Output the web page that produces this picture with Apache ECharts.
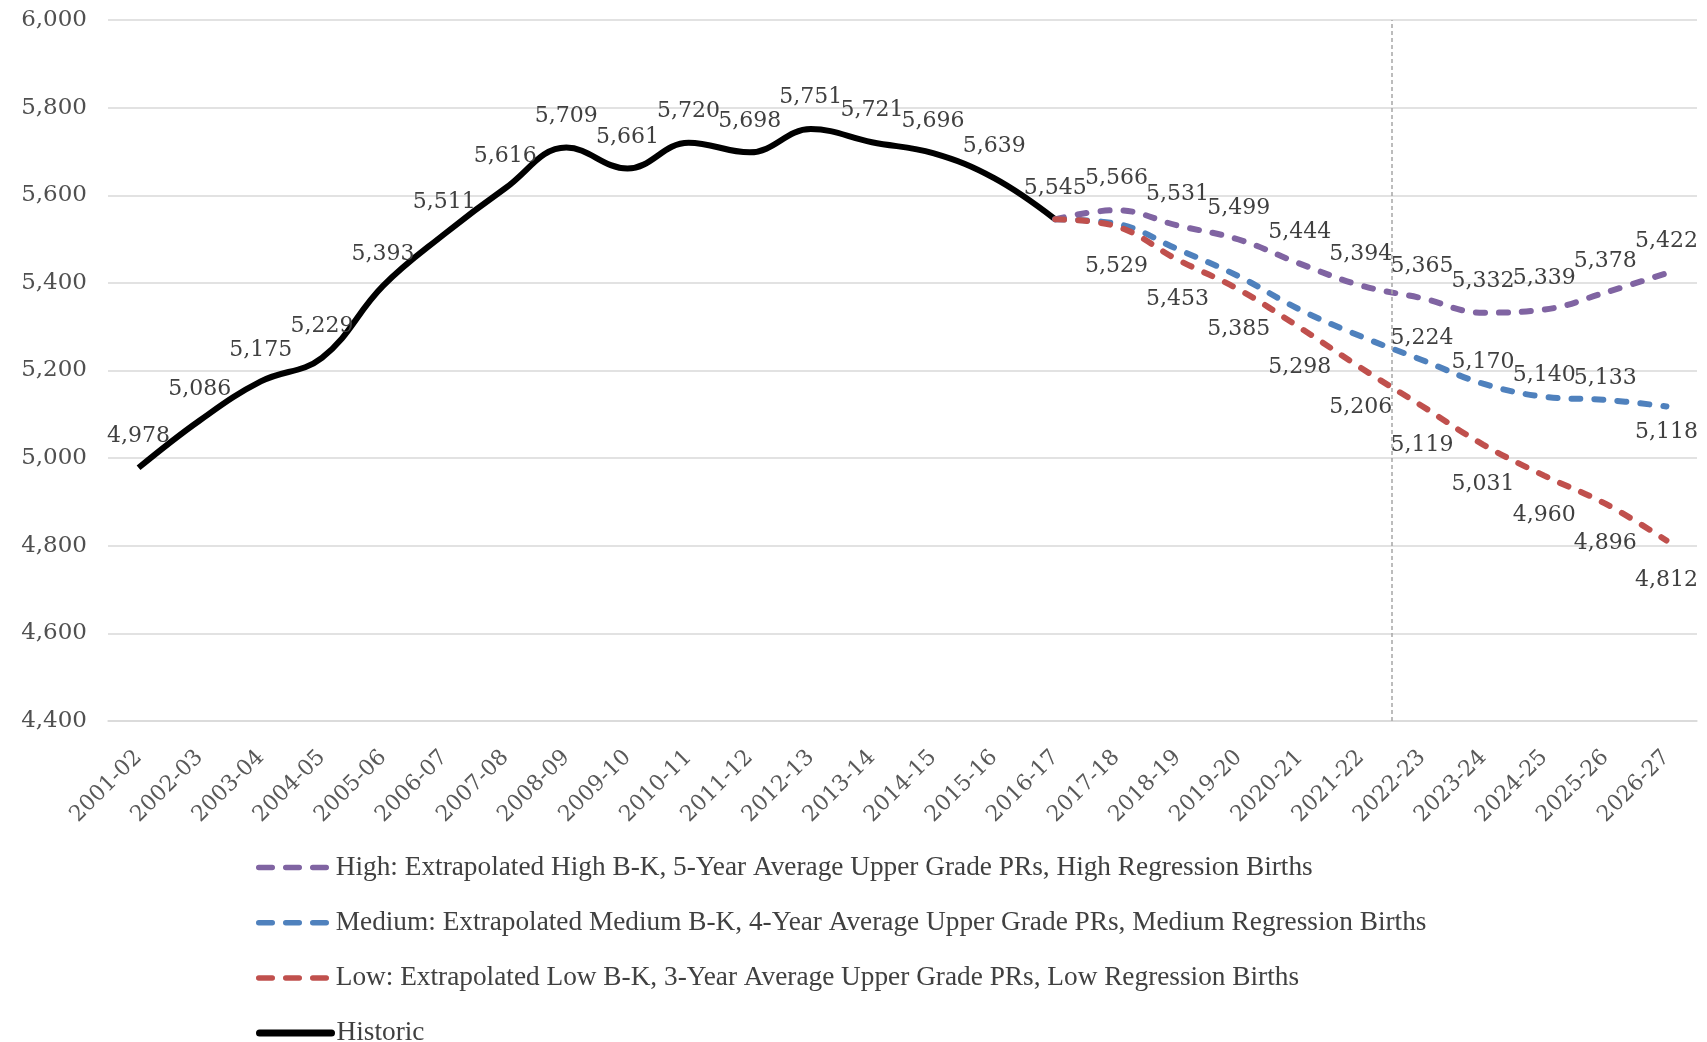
<!DOCTYPE html>
<html>
<head>
<meta charset="utf-8">
<script src="https://cdn.jsdelivr.net/npm/echarts@6/dist/echarts.min.js"></script>
<style>
  html, body { margin: 0; padding: 0; background: #fff; }
  #chart { width: 1707px; height: 1042px; }
</style>
</head>
<body>
<div id="chart"></div>
<script>
const categories = ['2001-02', '2002-03', '2003-04', '2004-05', '2005-06', '2006-07', '2007-08', '2008-09', '2009-10',
  '2010-11', '2011-12', '2012-13', '2013-14', '2014-15', '2015-16', '2016-17', '2017-18', '2018-19', '2019-20',
  '2020-21', '2021-22', '2022-23', '2023-24', '2024-25', '2025-26', '2026-27']
const historic = [4978, 5086, 5175, 5229, 5393, 5511, 5616, 5709, 5661, 5720, 5698, 5751, 5721, 5696, 5639, 5545]
// projections start at 2016-17
const high = [5545, 5566, 5531, 5499, 5444, 5394, 5365, 5332, 5339, 5378, 5422]
const medium = [5545, 5535, 5477, 5415, 5339, 5278, 5224, 5170, 5140, 5133, 5118]
const low = [5545, 5529, 5453, 5385, 5298, 5206, 5119, 5031, 4960, 4896, 4812]
const names = [
  'High: Extrapolated High B-K, 5-Year Average Upper Grade PRs, High Regression Births',
  'Medium: Extrapolated Medium B-K, 4-Year Average Upper Grade PRs, Medium Regression Births',
  'Low: Extrapolated Low B-K, 3-Year Average Upper Grade PRs, Low Regression Births',
  'Historic'
]

const font = 'DejaVu Serif'
const startIdx = historic.length - 1
const pad = n => new Array(n).fill(null)
const fmt = p => Number(p.value).toLocaleString('en-US')
const noDot = { color: 'rgba(0,0,0,0)', borderWidth: 0 }

const chart = echarts.init(document.getElementById('chart'))

function projData(arr, labelFor) {
  return pad(startIdx).concat(arr.map((v, i) => ({ value: v, label: labelFor(i) })))
}

const dash = { width: 6, type: [9, 14], cap: 'round' }
const legendDash = { width: 5.5, type: [13.5, 13.5], cap: 'round' }
const legendBase = {
  orient: 'vertical',
  left: 256,
  padding: 0,
  itemWidth: 72,
  itemHeight: 14,
  itemGap: 27.2,
  textStyle: { fontFamily: 'Liberation Serif', fontSize: 27.3, color: '#404040', lineHeight: 28 }
}

chart.setOption({
  animation: false,
  grid: { left: 108, right: 10, top: 20, bottom: 321 },
  legend: [
    Object.assign({
      top: 853.5,
      data: [
        { name: names[0], lineStyle: legendDash },
        { name: names[1], lineStyle: legendDash },
        { name: names[2], lineStyle: legendDash }
      ]
    }, legendBase),
    Object.assign({
      top: 1019,
      data: [{ name: names[3], lineStyle: { width: 7, type: 'solid', cap: 'round' } }]
    }, legendBase)
  ],
  xAxis: [
    {
      type: 'category',
      data: categories,
      axisLine: { lineStyle: { color: '#d9d9d9', width: 1.5 } },
      axisTick: { show: false },
      axisLabel: { rotate: 45, margin: 33, fontFamily: font, fontSize: 22, color: '#595959', interval: 0 }
    },
    { type: 'value', min: -0.5, max: 25.5, show: false }
  ],
  yAxis: {
    type: 'value',
    min: 4400,
    max: 6000,
    interval: 200,
    axisLine: { show: false },
    axisTick: { show: false },
    axisLabel: {
      margin: 21,
      fontFamily: font,
      fontSize: 23,
      color: '#505050',
      formatter: v => v.toLocaleString('en-US')
    },
    splitLine: { lineStyle: { color: '#d9d9d9', width: 1.5 } }
  },
  series: [
    {
      name: names[3],
      type: 'line',
      smooth: 0.4,
      symbol: 'circle',
      symbolSize: 1,
      showAllSymbol: true,
      data: historic.concat(pad(categories.length - historic.length)),
      lineStyle: { color: '#000', width: 6 },
      itemStyle: noDot,
      label: { show: true, position: 'top', distance: 20, formatter: fmt, fontFamily: font, fontSize: 22, color: '#404040' }
    },
    {
      name: names[0],
      type: 'line',
      smooth: 0.4,
      symbol: 'circle',
      symbolSize: 1,
      showAllSymbol: true,
      data: projData(high, i => ({ show: i > 0, position: 'top', distance: 20 })),
      lineStyle: Object.assign({ color: '#8064a2' }, dash),
      itemStyle: noDot,
      label: { formatter: fmt, fontFamily: font, fontSize: 22, color: '#404040' }
    },
    {
      name: names[1],
      type: 'line',
      smooth: 0.4,
      symbol: 'circle',
      symbolSize: 1,
      showAllSymbol: true,
      data: projData(medium, i => ({
        show: i >= 6,
        position: i === medium.length - 1 ? 'bottom' : 'top',
        distance: i === medium.length - 1 ? 14 : 10
      })),
      lineStyle: Object.assign({ color: '#4f81bd' }, dash),
      itemStyle: noDot,
      label: { formatter: fmt, fontFamily: font, fontSize: 22, color: '#404040' }
    },
    {
      name: names[2],
      type: 'line',
      smooth: 0.4,
      symbol: 'circle',
      symbolSize: 1,
      showAllSymbol: true,
      data: projData(low, i => ({ show: i > 0, position: 'bottom', distance: 28 })),
      lineStyle: Object.assign({ color: '#c0504d' }, dash),
      itemStyle: noDot,
      label: { formatter: fmt, fontFamily: font, fontSize: 22, color: '#404040' }
    },
    {
      // divider between 2021-22 and 2022-23
      type: 'line',
      xAxisIndex: 1,
      data: [],
      markLine: {
        silent: true,
        symbol: 'none',
        label: { show: false },
        lineStyle: { color: '#a6a6a6', type: [4, 3], width: 1.5 },
        data: [{ xAxis: 20.5 }]
      }
    }
  ]
})
</script>
</body>
</html>
